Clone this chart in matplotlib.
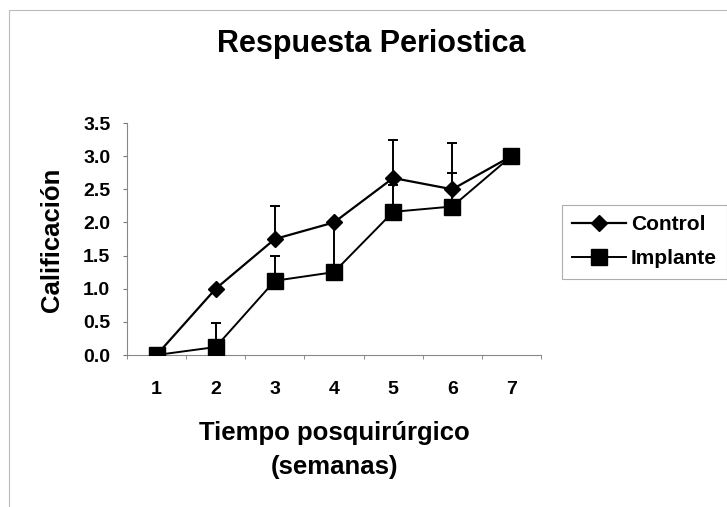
import matplotlib
matplotlib.use("Agg")
import matplotlib.pyplot as plt
from matplotlib.patches import Rectangle
import numpy as np

plt.rcParams['font.family'] = ['Liberation Sans', 'DejaVu Sans']

weeks = [1, 2, 3, 4, 5, 6, 7]
week_labels = ['1', '2', '3', '4', '5', '6', '7']
control = [0.0, 1.0, 1.75, 2.0, 2.67, 2.5, 3.0]
control_err = [0.0, 0.0, 0.5, 0.0, 0.57, 0.7, 0.0]
implante = [0.0, 0.12, 1.12, 1.25, 2.16, 2.24, 3.0]
implante_err = [0.0, 0.37, 0.37, 0.75, 0.41, 0.51, 0.0]
yticks = [0.0, 0.5, 1.0, 1.5, 2.0, 2.5, 3.0, 3.5]

W, H = 727, 507
fig = plt.figure(figsize=(W / 100, H / 100), dpi=100)
fig.patches.append(Rectangle((9 / W, -0.1), 1.2, (H - 10) / H + 0.1, transform=fig.transFigure,
                             fill=False, edgecolor='#bbbbbb', linewidth=0.8))
ax = fig.add_axes([127 / W, 1 - 355 / H, 414 / W, 232 / H])

x = np.array(weeks)
zeros = np.zeros(len(weeks))
ax.errorbar(x, control, yerr=[zeros, control_err], fmt='none', ecolor='black',
            elinewidth=1.4, capsize=3.8, capthick=1.4, zorder=2)
ax.errorbar(x, implante, yerr=[zeros, implante_err], fmt='none', ecolor='black',
            elinewidth=1.4, capsize=3.8, capthick=1.4, zorder=2)
ax.plot(x, control, color='black', lw=1.6, marker='D', markersize=8.5,
        markerfacecolor='black', label='Control', zorder=3)
ax.plot(x, implante, color='black', lw=1.4, marker='s', markersize=11,
        markerfacecolor='black', label='Implante', zorder=3)

ax.set_xlim(0.5, 7.5)
ax.set_ylim(0, 3.5)
ax.set_yticks(yticks)
ax.set_yticklabels([f'{v:.1f}' for v in yticks], fontsize=14, fontweight='bold')
ax.set_xticks(weeks)
ax.set_xticklabels(week_labels, fontsize=14, fontweight='bold')
ax.set_xticks(np.arange(0.5, 7.6, 1.0), minor=True)
ax.tick_params(axis='x', which='major', length=0, pad=19)
ax.tick_params(axis='x', which='minor', length=3, color='#777777', direction='out')
ax.tick_params(axis='y', which='major', length=3, color='#777777', direction='out', pad=9)

for s in ['top', 'right']:
    ax.spines[s].set_visible(False)
for s in ['left', 'bottom']:
    ax.spines[s].set_color('#888888')
    ax.spines[s].set_linewidth(0.8)

fig.text(371 / W, 1 - 52 / H, 'Respuesta Periostica', ha='center', va='baseline',
         fontsize=22, fontweight='bold')
fig.text(52 / W, 1 - 240 / H, 'Calificación', ha='center', va='center',
         rotation=90, fontsize=18.5, fontweight='bold')
fig.text(334 / W, 1 - 440 / H, 'Tiempo posquirúrgico', ha='center', va='baseline',
         fontsize=18.5, fontweight='bold')
fig.text(334 / W, 1 - 474 / H, '(semanas)', ha='center', va='baseline',
         fontsize=18.5, fontweight='bold')

leg = ax.legend(loc='upper left', bbox_to_anchor=(562 / W, 1 - 205 / H),
                bbox_transform=fig.transFigure, frameon=True, fancybox=False,
                prop={'size': 15, 'weight': 'bold'}, handlelength=2.55,
                borderpad=0.5, borderaxespad=0, labelspacing=0.72, handletextpad=0.25)
leg.get_frame().set_edgecolor('#999999')
leg.get_frame().set_linewidth(0.8)

fig.savefig('out.png', dpi=100)
